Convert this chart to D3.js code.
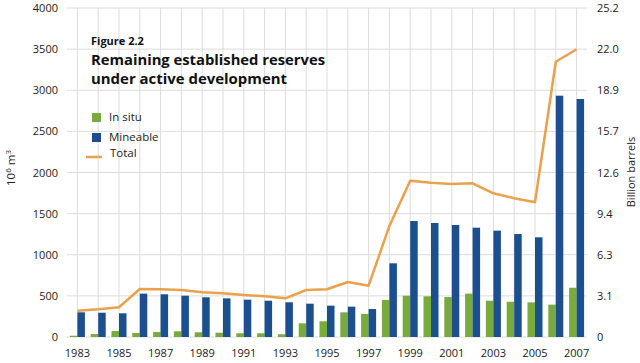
<!DOCTYPE html>
<html>
<head>
<meta charset="utf-8">
<script src="https://cdn.jsdelivr.net/npm/d3@7"></script>
<style>
html,body{margin:0;padding:0;background:#fff;}
svg{display:block;font-family:"Open Sans","Noto Sans",sans-serif;}
</style>
</head>
<body>
<svg id="chart" width="640" height="363"></svg>
<script>
const years = d3.range(1983, 2008);
const inSitu = [15, 36, 73, 49, 61, 69, 57, 52, 45, 45, 33, 166, 191, 300, 280, 450, 502, 495, 486, 527, 441, 429, 421, 393, 599];
const mineable = [300, 295, 288, 527, 519, 502, 483, 470, 454, 441, 422, 405, 381, 369, 340, 896, 1410, 1386, 1362, 1329, 1293, 1252, 1212, 2934, 2894];
const total = [320, 337, 361, 584, 580, 571, 543, 531, 511, 495, 470, 571, 580, 669, 624, 1350, 1900, 1876, 1860, 1868, 1747, 1686, 1638, 3347, 3498];
const leftTicks = [0, 500, 1000, 1500, 2000, 2500, 3000, 3500, 4000];
const rightTickLabels = ["0", "3.1", "6.3", "9.4", "12.6", "15.7", "18.9", "22.0", "25.2"];
const xTickYears = [1983, 1985, 1987, 1989, 1991, 1993, 1995, 1997, 1999, 2001, 2003, 2005, 2007];
const seriesNames = ["In situ", "Mineable", "Total"];
const colors = {insitu: "#79aa3d", mineable: "#1b4f8e", total: "#e9a14c"};

const svg = d3.select("#chart");
const L = 67, R = 587, T = 8, B = 337;

const x = d3.scaleBand().domain(years).range([L, R]).padding(0);
const sub = d3.scaleBand().domain(["insitu", "mineable"])
  .range([x.bandwidth() / 2 - 7.5, x.bandwidth() / 2 + 7.5]).padding(0);
const y = d3.scaleLinear().domain([0, 4000]).range([B, T]);
const yR = d3.scaleLinear().domain([0, 25.2]).range([B, T]);

// gridlines
const grid = svg.append("g");
grid.selectAll("line.h").data(leftTicks).join("line")
  .attr("x1", L).attr("x2", R)
  .attr("y1", d => y(d)).attr("y2", d => y(d))
  .attr("stroke", "#dcdcdc").attr("stroke-width", 1);
grid.selectAll("line.v").data(years).join("line")
  .attr("x1", d => x(d) + x.bandwidth() / 2).attr("x2", d => x(d) + x.bandwidth() / 2)
  .attr("y1", T).attr("y2", B)
  .attr("stroke", "#dcdcdc").attr("stroke-width", 1);

// bars
svg.append("g").selectAll("rect").data(years.map((yr, i) => ({yr, v: inSitu[i]}))).join("rect")
  .attr("x", d => x(d.yr) + sub("insitu")).attr("width", sub.bandwidth())
  .attr("y", d => y(d.v)).attr("height", d => y(0) - y(d.v))
  .attr("fill", colors.insitu);
svg.append("g").selectAll("rect").data(years.map((yr, i) => ({yr, v: mineable[i]}))).join("rect")
  .attr("x", d => x(d.yr) + sub("mineable")).attr("width", sub.bandwidth())
  .attr("y", d => y(d.v)).attr("height", d => y(0) - y(d.v))
  .attr("fill", colors.mineable);

// total line
const line = d3.line().x((d, i) => x(years[i]) + x.bandwidth() / 2).y(d => y(d));
svg.append("path").datum(total).attr("d", line)
  .attr("fill", "none").attr("stroke", colors.total).attr("stroke-width", 2.5)
  .attr("stroke-linejoin", "round");

// left axis
const yAxis = d3.axisLeft(y).tickValues(leftTicks).tickSize(0).tickPadding(0).tickFormat(d3.format("d"));
const gL = svg.append("g").attr("transform", `translate(${L - 9},0)`).call(yAxis);
gL.select(".domain").remove();
gL.selectAll("text").attr("font-size", 11).attr("fill", "#222").attr("font-family", "Open Sans");

// right axis
const yRAxis = d3.axisRight(yR).tickValues(leftTicks.map((d, i) => yR.domain()[1] * i / 8))
  .tickSize(0).tickPadding(0).tickFormat((d, i) => rightTickLabels[i]);
const gR = svg.append("g").attr("transform", `translate(${R + 10},0)`).call(yRAxis);
gR.select(".domain").remove();
gR.selectAll("text").attr("font-size", 11).attr("fill", "#222").attr("font-family", "Open Sans");

// x axis
const xAxis = d3.axisBottom(x).tickValues(xTickYears).tickSize(0).tickPadding(0).tickFormat(d3.format("d"));
const gX = svg.append("g").attr("transform", `translate(0,${B + 12})`).call(xAxis);
gX.select(".domain").remove();
gX.selectAll("text").attr("font-size", 11).attr("fill", "#222").attr("font-family", "Open Sans");

// axis titles
const lt = svg.append("text").attr("transform", "translate(15,168) rotate(-90)")
  .attr("text-anchor", "middle").attr("font-size", 11.5).attr("fill", "#222");
lt.append("tspan").text("10");
lt.append("tspan").attr("font-size", 8).attr("dy", -4).text("6");
lt.append("tspan").attr("dy", 4).text(" m");
lt.append("tspan").attr("font-size", 8).attr("dy", -4).text("3");
svg.append("text").attr("transform", "translate(635,172) rotate(-90)")
  .attr("text-anchor", "middle").attr("font-size", 11).attr("fill", "#222").text("Billion barrels");

// titles
svg.append("text").attr("x", 91).attr("y", 45).attr("font-size", 11).attr("font-weight", "bold")
  .attr("fill", "#111").text("Figure 2.2");
svg.append("text").attr("x", 91).attr("y", 65).attr("font-size", 15).attr("font-weight", "bold")
  .attr("fill", "#111").attr("textLength", 234).attr("lengthAdjust", "spacingAndGlyphs")
  .text("Remaining established reserves");
svg.append("text").attr("x", 91).attr("y", 84).attr("font-size", 15).attr("font-weight", "bold")
  .attr("fill", "#111").attr("textLength", 196).attr("lengthAdjust", "spacingAndGlyphs")
  .text("under active development");

// legend
const lg = svg.append("g");
lg.append("rect").attr("x", 92).attr("y", 113).attr("width", 9).attr("height", 9).attr("fill", colors.insitu);
lg.append("text").attr("x", 109).attr("y", 121).attr("font-size", 11.5).attr("fill", "#222").text(seriesNames[0]);
lg.append("rect").attr("x", 92).attr("y", 133).attr("width", 9).attr("height", 9).attr("fill", colors.mineable);
lg.append("text").attr("x", 109).attr("y", 141).attr("font-size", 11.5).attr("fill", "#222").text(seriesNames[1]);
lg.append("line").attr("x1", 86).attr("x2", 102).attr("y1", 157).attr("y2", 157)
  .attr("stroke", colors.total).attr("stroke-width", 2.5);
lg.append("text").attr("x", 110).attr("y", 157).attr("font-size", 11.5).attr("fill", "#222").text(seriesNames[2]);
</script>
</body>
</html>
